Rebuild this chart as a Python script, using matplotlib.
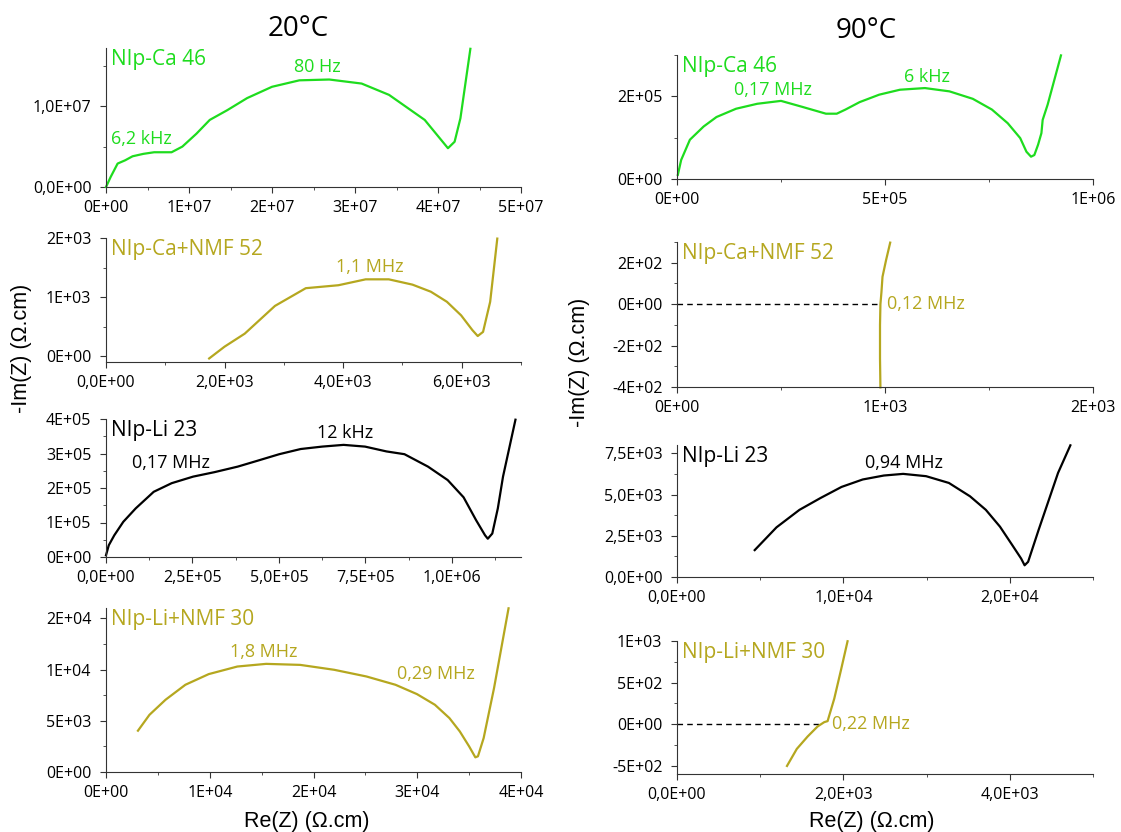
from matplotlib import pyplot as plt
from matplotlib.ticker import FuncFormatter, MultipleLocator
import numpy as np

### Data

GREEN = '#1edc1e'
OLIVE = '#b5a71f'

# 20 C
ca46_20_re = [0, 0.056, 0.14, 0.23, 0.32, 0.45, 0.58, 0.79, 0.92, 1.09, 1.25, 1.46, 1.70, 2.00,
              2.33, 2.69, 3.08, 3.41, 3.84, 4.12, 4.20, 4.27, 4.39]
ca46_20_im = [0, 0.124, 0.29, 0.33, 0.38, 0.41, 0.43, 0.43, 0.50, 0.66, 0.83, 0.95, 1.10, 1.24,
              1.32, 1.33, 1.28, 1.14, 0.83, 0.48, 0.56, 0.85, 1.71]

canmf52_20_re = [1.74, 2.0, 2.34, 2.85, 3.37, 3.92, 4.38, 4.77, 5.17, 5.48, 5.75, 5.99, 6.18,
                 6.27, 6.36, 6.48, 6.60]
canmf52_20_im = [-0.04, 0.16, 0.38, 0.85, 1.15, 1.20, 1.30, 1.30, 1.21, 1.09, 0.92, 0.69, 0.44,
                 0.34, 0.41, 0.92, 1.99]

li23_20_re = [0, 0.08, 0.24, 0.50, 0.86, 1.38, 1.90, 2.52, 3.14, 3.81, 4.38, 5.01, 5.63, 6.25,
              6.87, 7.49, 8.11, 8.63, 9.31, 9.88, 10.34, 10.70, 10.96, 11.04, 11.17, 11.33,
              11.48, 11.84]
li23_20_im = [0.05, 0.34, 0.63, 1.02, 1.41, 1.89, 2.14, 2.33, 2.46, 2.62, 2.79, 2.98, 3.13, 3.20,
              3.25, 3.20, 3.06, 2.98, 2.62, 2.23, 1.73, 1.07, 0.63, 0.53, 0.68, 1.41, 2.33, 3.98]

linmf30_20_re = [3.08, 4.19, 5.74, 7.65, 9.90, 12.66, 15.43, 18.72, 22.0, 25.1, 27.9, 29.97,
                 31.7, 33.1, 34.1, 35.0, 35.6, 35.85, 36.4, 37.4, 38.8]
linmf30_20_im = [4.03, 5.58, 7.05, 8.51, 9.55, 10.29, 10.55, 10.45, 9.97, 9.32, 8.51, 7.60,
                 6.56, 5.26, 3.96, 2.50, 1.43, 1.53, 3.31, 8.18, 15.97]

# 90 C
ca46_90_re = [0.02, 0.10, 0.31, 0.64, 0.95, 1.42, 1.93, 2.50, 3.03, 3.58, 3.84, 4.05, 4.39, 4.86,
              5.36, 5.96, 6.55, 7.11, 7.57, 7.95, 8.25, 8.40, 8.51, 8.59, 8.68, 8.76, 8.79,
              8.91, 9.23]
ca46_90_im = [0.10, 0.46, 0.95, 1.27, 1.50, 1.70, 1.82, 1.89, 1.74, 1.58, 1.58, 1.68, 1.86, 2.04,
              2.16, 2.20, 2.12, 1.94, 1.68, 1.35, 0.99, 0.66, 0.54, 0.58, 0.83, 1.11, 1.43,
              1.80, 2.99]

canmf52_90_re = [0.978, 0.976, 0.976, 0.978, 0.983, 0.988, 1.005, 1.025]
canmf52_90_im = [-402, -262, -101, 0, 59, 132, 212, 297]

li23_90_re = [4.67, 5.98, 7.36, 8.63, 9.89, 11.16, 12.43, 13.59, 14.97, 16.34, 17.61, 18.56,
              19.41, 20.15, 20.68, 20.89, 21.10, 21.73, 22.90, 23.64]
li23_90_im = [1.63, 3.01, 4.07, 4.79, 5.46, 5.91, 6.15, 6.25, 6.11, 5.70, 4.89, 4.07, 3.05,
              1.93, 1.12, 0.71, 0.92, 2.85, 6.31, 7.98]

linmf30_90_re = [1.322, 1.44, 1.57, 1.69, 1.77, 1.81, 1.89, 1.97, 2.05]
linmf30_90_im = [-503, -298, -149, -28, 24, 36, 306, 647, 997]

### Layout helpers

W, H = 1121, 832
plt.rcParams['font.family'] = ['Open Sans', 'DejaVu Sans']
fig = plt.figure(figsize=(W / 100, H / 100), dpi=100)

LC = (106, 521)   # left column, pixels
RC = (677, 1093)  # right column, pixels

def fmt(dec):
  return FuncFormatter(lambda v, p: ('%.*E' % (dec, v)).replace('.', ','))

def panel(col, t, b, xlim, ylim, xmaj, xmin, ymaj, ymin, xdec, ydec):
  l, r = col
  ax = fig.add_axes([l / W, 1 - b / H, (r - l) / W, (b - t) / H])
  ax.set_xlim(*xlim)
  ax.set_ylim(*ylim)
  for s in ['top', 'right']:
    ax.spines[s].set_visible(False)
  for s in ['left', 'bottom']:
    ax.spines[s].set_color('#333333')
  ax.xaxis.set_major_locator(MultipleLocator(xmaj))
  ax.xaxis.set_minor_locator(MultipleLocator(xmin))
  ax.yaxis.set_major_locator(MultipleLocator(ymaj))
  ax.yaxis.set_minor_locator(MultipleLocator(ymin))
  ax.xaxis.set_major_formatter(fmt(xdec))
  ax.yaxis.set_major_formatter(fmt(ydec))
  ax.tick_params(which='major', direction='out', length=4.5, labelsize=11.5, color='#333333')
  ax.tick_params(axis='x', which='major', pad=5)
  ax.tick_params(axis='y', which='major', pad=6)
  ax.tick_params(which='minor', direction='out', length=2.5, color='#333333')
  ax.patch.set_alpha(0)
  return ax

def name(ax, txt, color):
  ax.annotate(txt, xy=(0, 1), xycoords='axes fraction', xytext=(3.5, -1),
              textcoords='offset points', ha='left', va='top', fontsize=15, color=color)

def note(ax, x, y, txt, color, ha='center'):
  ax.text(x, y, txt, color=color, fontsize=13, ha=ha, va='center')

### 20 C column

ax = panel(LC, 48, 187, (0, 5e7), (0, 1.72e7), 1e7, 5e6, 1e7, 5e6, 0, 1)
ax.plot(np.array(ca46_20_re) * 1e7, np.array(ca46_20_im) * 1e7, color=GREEN, lw=1.6, clip_on=False)
name(ax, 'NIp-Ca 46', GREEN)
note(ax, 2.55e7, 1.48e7, '80 Hz', GREEN)
note(ax, 0.43e7, 0.59e7, '6,2 kHz', GREEN)

ax = panel(LC, 238, 362, (0, 7000), (-100, 2000), 2000, 1000, 1000, 500, 1, 0)
ax.plot(np.array(canmf52_20_re) * 1e3, np.array(canmf52_20_im) * 1e3, color=OLIVE, lw=1.6, clip_on=False)
name(ax, 'NIp-Ca+NMF 52', OLIVE)
note(ax, 4.45e3, 1509, '1,1 MHz', OLIVE)

ax = panel(LC, 419, 557, (0, 1.2e6), (0, 4e5), 2.5e5, 1.25e5, 1e5, 5e4, 1, 0)
ax.plot(np.array(li23_20_re) * 1e5, np.array(li23_20_im) * 1e5, color='black', lw=1.6, clip_on=False)
name(ax, 'NIp-Li 23', 'black')
note(ax, 1.87e5, 2.72e5, '0,17 MHz', 'black')
note(ax, 6.92e5, 3.59e5, '12 kHz', 'black')

ax = panel(LC, 608, 772, (0, 4e4), (0, 1.6e4), 1e4, 5e3, 5e3, 2.5e3, 0, 0)
ax.plot(np.array(linmf30_20_re) * 1e3, np.array(linmf30_20_im) * 1e3, color=OLIVE, lw=1.6, clip_on=False)
name(ax, 'NIp-Li+NMF 30', OLIVE)
note(ax, 1.52e4, 1.17e4, '1,8 MHz', OLIVE)
note(ax, 3.18e4, 9.56e3, '0,29 MHz', OLIVE)

### 90 C column

ax = panel(RC, 55, 179, (0, 1e6), (0, 3e5), 5e5, 2.5e5, 2e5, 1e5, 0, 0)
ax.plot(np.array(ca46_90_re) * 1e5, np.array(ca46_90_im) * 1e5, color=GREEN, lw=1.6, clip_on=False)
name(ax, 'NIp-Ca 46', GREEN)
note(ax, 2.30e5, 2.15e5, '0,17 MHz', GREEN)
note(ax, 6.0e5, 2.47e5, '6 kHz', GREEN)

ax = panel(RC, 242, 387, (0, 2000), (-400, 300), 1000, 500, 200, 100, 0, 0)
ax.plot([0, 975], [0, 0], color='black', lw=1, ls=(0, (4, 3)))
ax.plot(np.array(canmf52_90_re) * 1e3, canmf52_90_im, color=OLIVE, lw=1.6, clip_on=False)
name(ax, 'NIp-Ca+NMF 52', OLIVE)
note(ax, 1.01e3, 0, '0,12 MHz', OLIVE, ha='left')

ax = panel(RC, 445, 577, (0, 2.5e4), (0, 8e3), 1e4, 5e3, 2.5e3, 1.25e3, 1, 1)
ax.plot(np.array(li23_90_re) * 1e3, np.array(li23_90_im) * 1e3, color='black', lw=1.6, clip_on=False)
name(ax, 'NIp-Li 23', 'black')
note(ax, 1.365e4, 6.9e3, '0,94 MHz', 'black')

ax = panel(RC, 641, 774, (0, 5000), (-600, 1000), 2000, 1000, 500, 250, 1, 0)
ax.plot([0, 1720], [0, 0], color='black', lw=1, ls=(0, (4, 3)))
ax.plot(np.array(linmf30_90_re) * 1e3, linmf30_90_im, color=OLIVE, lw=1.6, clip_on=False)
name(ax, 'NIp-Li+NMF 30', OLIVE)
note(ax, 1.86e3, 0, '0,22 MHz', OLIVE, ha='left')

### Shared labels

fig.text(298 / W, 1 - 29 / H, '20°C', fontsize=20, ha='center', va='center')
fig.text(866 / W, 1 - 31 / H, '90°C', fontsize=20, ha='center', va='center')
lab = dict(fontsize=15.5, family=['Liberation Sans', 'DejaVu Sans'], ha='center', va='center')
fig.text(22 / W, 1 - 348 / H, '-Im(Z) (Ω.cm)', rotation=90, **lab)
fig.text(580 / W, 1 - 362 / H, '-Im(Z) (Ω.cm)', rotation=90, **lab)
fig.text(307 / W, 1 - 821 / H, 'Re(Z) (Ω.cm)', **lab)
fig.text(872 / W, 1 - 821 / H, 'Re(Z) (Ω.cm)', **lab)

fig.savefig('out.png', dpi=100)
